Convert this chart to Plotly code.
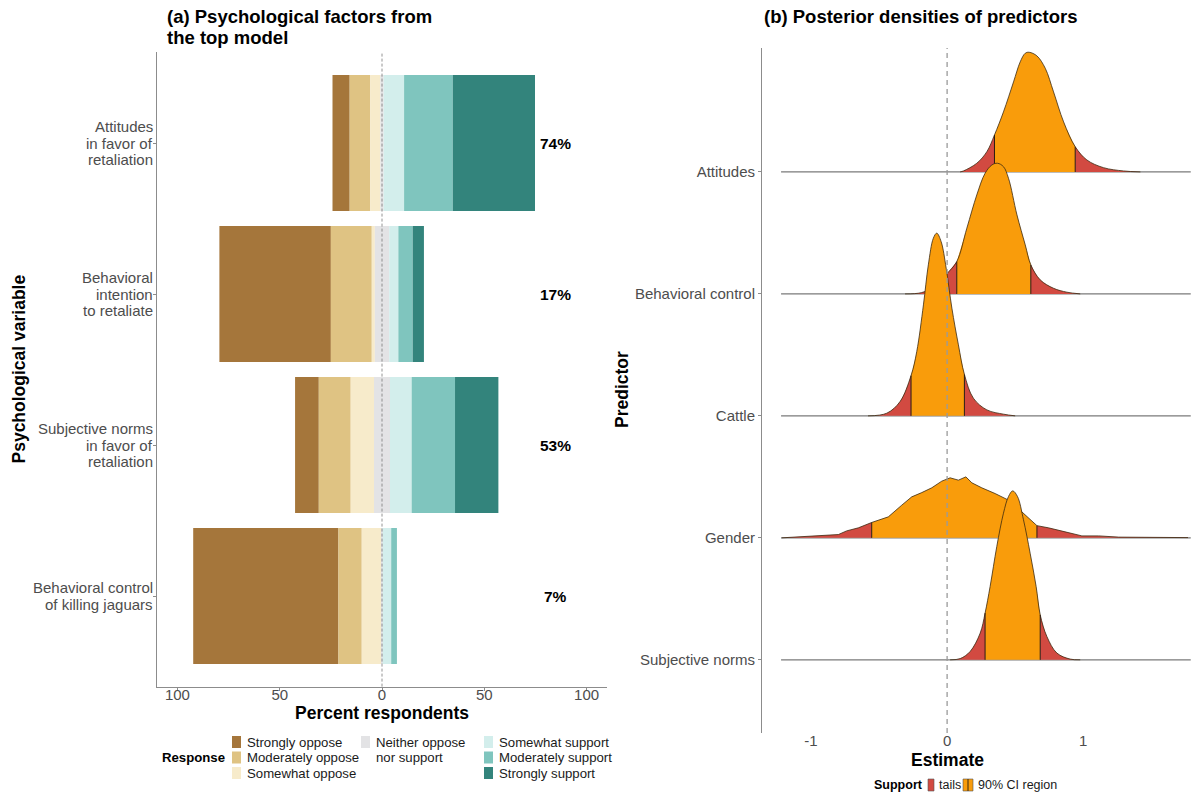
import plotly.graph_objects as go

W, H = 1203, 795
FONT = "Liberation Sans, Arial, sans-serif"
GREY_TXT = "#4D4D4D"

# ---------------- Panel (a): Likert responses (% of respondents) ----------------
variables = [
    "Attitudes\nin favor of\nretaliation",
    "Behavioral\nintention\nto retaliate",
    "Subjective norms\nin favor of\nretaliation",
    "Behavioral control\nof killing jaguars",
]
responses = [
    "Strongly oppose", "Moderately oppose", "Somewhat oppose",
    "Neither oppose\nnor support",
    "Somewhat support", "Moderately support", "Strongly support",
]
strongly_oppose = [8.4, 54.5, 11.6, 71.0]
moderately_oppose = [10.1, 20.0, 15.6, 11.4]
somewhat_oppose = [4.9, 1.5, 11.4, 9.6]
neutral = [1.6, 7.0, 7.8, 0.6]
somewhat_support = [10.0, 4.5, 10.6, 4.2]
moderately_support = [23.8, 7.0, 21.2, 2.8]
strongly_support = [40.2, 5.5, 21.2, 0.0]
response_colors = ["#A5763B", "#DFC383", "#F7EBCB", "#E3E3E5",
                   "#D3EEEC", "#7FC5BE", "#33847C"]
pct_ticks = [-100, -50, 0, 50, 100]

# ---------------- Panel (b): posterior densities ----------------
predictors = ["Attitudes", "Behavioral control", "Cattle", "Gender", "Subjective norms"]
estimate_span = [-1.22, 1.79]

att_x = [0.096, 0.12, 0.218, 0.292, 0.348, 0.414, 0.488, 0.537, 0.574, 0.603,
         0.660, 0.721, 0.782, 0.856, 0.941, 1.027, 1.149, 1.296, 1.42]
att_h = [0.0, 0.008, 0.071, 0.166, 0.303, 0.492, 0.738, 0.902, 0.973, 0.981,
         0.951, 0.850, 0.656, 0.410, 0.207, 0.098, 0.035, 0.008, 0.0]
att_ci = [0.348, 0.941]

bc_x = [-0.309, -0.19, -0.09, -0.002, 0.071, 0.145, 0.218, 0.279, 0.329, 0.370,
        0.414, 0.451, 0.513, 0.574, 0.615, 0.684, 0.782, 0.880, 0.978]
bc_h = [0.0, 0.01, 0.06, 0.165, 0.265, 0.539, 0.811, 0.989, 1.057, 1.071,
        1.043, 0.948, 0.648, 0.402, 0.238, 0.115, 0.046, 0.014, 0.0]
bc_ci = [0.071, 0.615]

cat_x = [-0.581, -0.443, -0.346, -0.265, -0.223, -0.174, -0.138, -0.101, -0.076,
         -0.044, -0.007, 0.035, 0.083, 0.127, 0.193, 0.292, 0.414, 0.5]
cat_h = [0.0, 0.022, 0.117, 0.33, 0.527, 0.910, 1.238, 1.457, 1.498,
         1.429, 1.211, 0.883, 0.582, 0.34, 0.145, 0.049, 0.014, 0.0]
cat_ci = [-0.265, 0.127]

gen_x = [-1.215, -1.02, -0.799, -0.738, -0.652, -0.554, -0.432, -0.333, -0.26,
         -0.186, -0.113, -0.039, 0.022, 0.083, 0.138, 0.182, 0.255, 0.353, 0.451,
         0.549, 0.66, 0.745, 0.868, 0.99, 1.113, 1.26, 1.77]
gen_h = [0.0, 0.011, 0.027, 0.057, 0.082, 0.126, 0.172, 0.268, 0.336,
         0.371, 0.410, 0.465, 0.492, 0.473, 0.500, 0.451, 0.410, 0.363, 0.309,
         0.213, 0.1, 0.082, 0.049, 0.016, 0.016, 0.006, 0.002]
gen_ci = [-0.554, 0.66]

sn_x = [0.022, 0.096, 0.169, 0.243, 0.279, 0.316, 0.365, 0.414, 0.451, 0.482,
        0.517, 0.561, 0.610, 0.654, 0.684, 0.733, 0.807, 0.904, 0.978]
sn_h = [0.0, 0.01, 0.068, 0.219, 0.383, 0.601, 0.929, 1.202, 1.339, 1.385,
        1.339, 1.148, 0.874, 0.601, 0.369, 0.191, 0.055, 0.006, 0.0]
sn_ci = [0.279, 0.684]

est_ticks = [-1, 0, 1]
tail_color = "#D24A41"
ci_color = "#F99C0B"


def px(xp):
    return xp / W


def py(yp):
    return 1 - yp / H


fig = go.Figure()

# ---- stacked diverging bars ----
ypos = [3, 2, 1, 0]
series = [strongly_oppose, moderately_oppose, somewhat_oppose, neutral,
          somewhat_support, moderately_support, strongly_support]
starts = [-(so + mo + swo + n / 2) for so, mo, swo, n in
          zip(strongly_oppose, moderately_oppose, somewhat_oppose, neutral)]
cursor = list(starts)
for name, vals, col in zip(responses, series, response_colors):
    fig.add_trace(go.Bar(
        orientation="h", y=ypos, x=vals, base=list(cursor), width=0.9,
        marker=dict(color=col, line=dict(width=0)), name=name,
        showlegend=False, xaxis="x", yaxis="y", hoverinfo="skip"))
    cursor = [c + v for c, v in zip(cursor, vals)]

positive = [a + b + c for a, b, c in zip(somewhat_support, moderately_support, strongly_support)]
for yv, p in zip(ypos, positive):
    fig.add_annotation(x=85, y=yv, xref="x", yref="y", text=f"<b>{round(p)}%</b>",
                       showarrow=False, font=dict(size=15.5, color="black", family=FONT))

# category labels, one line per annotation for tight spacing
for yv, lab in zip(ypos, variables):
    lines = lab.split("\n")
    mid = (len(lines) - 1) / 2
    for j, ln in enumerate(lines):
        fig.add_annotation(x=px(155), y=yv, xref="paper", yref="y", text=ln,
                           xanchor="right", yanchor="middle", showarrow=False,
                           yshift=(mid - j) * 16.5,
                           font=dict(size=15, color=GREY_TXT, family=FONT))

# ---- ridgelines ----
ridges = [
    (att_x, att_h, att_ci),
    (bc_x, bc_h, bc_ci),
    (cat_x, cat_h, cat_ci),
    (gen_x, gen_h, gen_ci),
    (sn_x, sn_h, sn_ci),
]
ridge_y = [4, 3, 2, 1, 0]
for (xs, hs, ci), base in zip(ridges, ridge_y):
    shape = "linear" if len(xs) > 22 else "spline"
    fig.add_trace(go.Scatter(x=estimate_span, y=[base, base], mode="lines",
                             line=dict(color="#7A7A7A", width=1.3),
                             xaxis="x2", yaxis="y2", showlegend=False, hoverinfo="skip"))
    lo, hi = ci
    segments = [
        ([p for p in zip(xs, hs) if p[0] <= lo], tail_color),
        ([p for p in zip(xs, hs) if lo <= p[0] <= hi], ci_color),
        ([p for p in zip(xs, hs) if p[0] >= hi], tail_color),
    ]
    for pts, col in segments:
        sx = [p[0] for p in pts]
        sy = [base + p[1] for p in pts]
        fig.add_trace(go.Scatter(x=[sx[0], sx[-1]], y=[base, base], mode="lines",
                                 line=dict(width=0), xaxis="x2", yaxis="y2",
                                 showlegend=False, hoverinfo="skip"))
        fig.add_trace(go.Scatter(x=sx, y=sy, mode="lines", fill="tonexty",
                                 fillcolor=col, line=dict(width=0, shape=shape),
                                 xaxis="x2", yaxis="y2", showlegend=False, hoverinfo="skip"))
    fig.add_trace(go.Scatter(x=xs, y=[base + h for h in hs], mode="lines",
                             line=dict(color="#3B2A10", width=0.8, shape=shape),
                             xaxis="x2", yaxis="y2", showlegend=False, hoverinfo="skip"))
    for b in ci:
        hv = hs[xs.index(b)]
        fig.add_trace(go.Scatter(x=[b, b], y=[base, base + hv], mode="lines",
                                 line=dict(color="#2A1A10", width=1),
                                 xaxis="x2", yaxis="y2", showlegend=False, hoverinfo="skip"))

# ---- reference lines at zero ----
fig.add_shape(type="line", xref="x", yref="y domain", x0=0, x1=0, y0=0, y1=1,
              line=dict(color="#7A7A7A", width=0.8, dash="3px,2px"), layer="above")
fig.add_shape(type="line", xref="x2", yref="y2 domain", x0=0, x1=0, y0=0, y1=1,
              line=dict(color="#9A9A9A", width=1.3, dash="5px,4px"), layer="above")

axis_common = dict(showgrid=False, zeroline=False, linecolor="#8C8C8C", linewidth=1,
                   ticks="outside", ticklen=3, tickcolor="#8C8C8C",
                   tickfont=dict(size=15, color=GREY_TXT, family=FONT))

fig.update_layout(
    width=W, height=H, margin=dict(l=0, r=0, t=0, b=0),
    paper_bgcolor="white", plot_bgcolor="white", barmode="overlay",
    font=dict(family=FONT),
    xaxis=dict(domain=[px(157), px(607)], range=[-110, 110], anchor="y",
               showline=True, tickvals=pct_ticks, ticklabelstandoff=-9,
               ticktext=[str(abs(t)) for t in pct_ticks], **axis_common),
    yaxis=dict(domain=[py(686.6), py(52.4)], range=[-0.6, 3.6], anchor="x",
               showline=True, tickvals=ypos, ticktext=["" for _ in ypos], **axis_common),
    xaxis2=dict(domain=[px(762), 1.0], range=[-1.36, 1.88], anchor="y2",
                showline=False, tickvals=est_ticks, ticks="", ticklabelstandoff=-3,
                ticktext=[str(t) for t in est_ticks],
                showgrid=False, zeroline=False,
                tickfont=dict(size=15, color=GREY_TXT, family=FONT)),
    yaxis2=dict(domain=[py(733), py(48)], range=[-0.6, 5.016], anchor="x2",
                showline=True, tickvals=ridge_y, ticktext=predictors, **axis_common),
)

# ---- titles ----
def label(x, y, text, size, anchor="left", color="black", angle=0, bold=False):
    t = f"<b>{text}</b>" if bold else text
    fig.add_annotation(x=px(x), y=py(y), xref="paper", yref="paper", text=t,
                       xanchor=anchor, yanchor="middle", showarrow=False, textangle=angle,
                       font=dict(size=size, color=color, family=FONT))

label(165, 17, "(a) Psychological factors from", 18.5, bold=True)
label(165, 38, "the top model", 18.5, bold=True)
label(762, 17, "(b) Posterior densities of predictors", 18.5, bold=True)
label(382, 713, "Percent respondents", 17.5, anchor="center", bold=True)
label(947, 760, "Estimate", 17.5, anchor="center", bold=True)
label(18, 369.5, "Psychological variable", 17.5, anchor="center", angle=-90, bold=True)
label(622, 390, "Predictor", 17.5, anchor="center", angle=-90, bold=True)

# ---- response legend ----
label(227, 757.5, "Response", 13.2, anchor="right", bold=True)
legend_slots = [(232, 742), (232, 757.5), (232, 773), (361, 742),
                (484, 742), (484, 757.5), (484, 773)]
for (kx, ky), name, col in zip(legend_slots, responses, response_colors):
    fig.add_shape(type="rect", xref="paper", yref="paper",
                  x0=px(kx), x1=px(kx + 9), y0=py(ky - 6), y1=py(ky + 6),
                  fillcolor=col, line=dict(width=0))
    lines = name.split("\n")
    for j, ln in enumerate(lines):
        label(kx + 13, ky + j * 15.5, ln, 13.2, color="#1A1A1A")

# ---- support legend ----
label(925, 785, "Support", 12.5, anchor="right", bold=True)
fig.add_shape(type="rect", xref="paper", yref="paper", x0=px(928), x1=px(934),
              y0=py(791), y1=py(779), fillcolor=tail_color, line=dict(width=0.6, color="#555"))
label(936.5, 785, "tails", 12.5, color="#1A1A1A")
fig.add_shape(type="rect", xref="paper", yref="paper", x0=px(963), x1=px(973),
              y0=py(791), y1=py(779), fillcolor=ci_color, line=dict(width=0.6, color="#555"))
fig.add_shape(type="line", xref="paper", yref="paper", x0=px(968), x1=px(968),
              y0=py(791), y1=py(779), line=dict(width=1, color="#3B2A10"))
label(976, 785, "90% CI region", 12.5, color="#1A1A1A")

fig.write_html("out.html")
